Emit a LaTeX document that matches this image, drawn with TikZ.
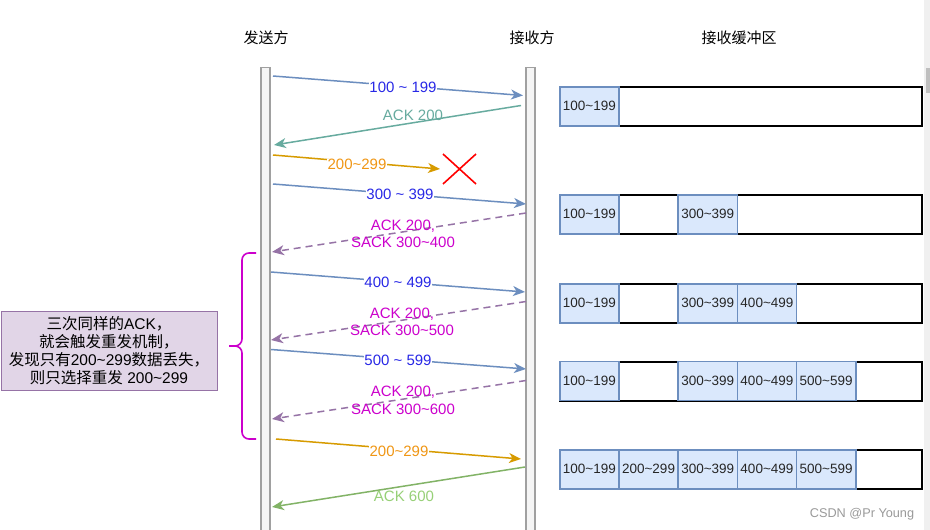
\documentclass[tikz,border=0pt]{standalone}
\usepackage{fontspec}
\setmainfont{Liberation Sans}
\newfontfamily\cjk{Noto Sans CJK SC}
\usetikzlibrary{arrows.meta}
\definecolor{segline}{HTML}{6C8EBF}
\definecolor{segtext}{RGB}{40,40,230}
\definecolor{ackline}{HTML}{67AB9F}
\definecolor{orgline}{HTML}{D79B00}
\definecolor{orgtext}{RGB}{240,150,20}
\definecolor{sackline}{HTML}{9673A6}
\definecolor{sacktext}{HTML}{CC00CC}
\definecolor{grnline}{HTML}{82B366}
\definecolor{grntext}{HTML}{97D077}
\definecolor{lifedraw}{HTML}{A0A0A0}
\definecolor{lifefill}{HTML}{F5F5F5}
\definecolor{cellfill}{HTML}{DAE8FC}
\definecolor{notefill}{HTML}{E1D5E7}
\definecolor{wm}{HTML}{9A9A9A}
\newcommand\tld{\textasciitilde}
\begin{document}
\begin{tikzpicture}[x=1pt,y=-1pt,
  lifebar/.style={draw=lifedraw, fill=lifefill, line width=1.3pt, minimum width=9pt, minimum height=475pt, inner sep=0pt, anchor=north},
  msg/.style={line width=1.5pt, -{Stealth[length=12pt,width=10pt,inset=3.5pt]}},
  lbl/.style={font=\fontsize{15}{17.5}\selectfont, inner sep=0.5pt, align=center},
  hdr/.style={font=\cjk\fontsize{15}{18}\selectfont, inner sep=0pt},
  cellbox/.style={draw=segline, fill=cellfill, line width=1.5pt, minimum width=59.2pt, minimum height=39pt, inner sep=0pt, anchor=north west, font=\fontsize{13.5}{16}\selectfont, text=black!85},
  bufbox/.style={draw=black, line width=2pt, minimum width=362pt, minimum height=39pt, inner sep=0pt, anchor=north west},
]
\useasboundingbox (0,0) rectangle (930,530);
\fill[white] (0,0) rectangle (930,530);

% headers
\node[hdr] (hs) at (266,38) {发送方};
\node[hdr] (hr) at (532,38) {接收方};
\node[hdr] (hb) at (739,38) {接收缓冲区};

% lifelines
\node[lifebar] (snd) at (265.5,67) {};
\node[lifebar] (rcv) at (530.5,67) {};

% endpoints
\coordinate (a1) at (273,76);  \coordinate (b1) at (523,95.5);
\coordinate (a2) at (521,105.5); \coordinate (b2) at (274,145);
\coordinate (a3) at (273,155); \coordinate (b3) at (440,169);
\coordinate (a4) at (273,184); \coordinate (b4) at (526,204);
\coordinate (a5) at (526,213); \coordinate (b5) at (272,252);
\coordinate (a6) at (271,272); \coordinate (b6) at (525,292);
\coordinate (a7) at (526,301.5); \coordinate (b7) at (271,340);
\coordinate (a8) at (271,349.5); \coordinate (b8) at (526,369);
\coordinate (a9) at (526,380.5); \coordinate (b9) at (272,419);
\coordinate (a10) at (276,439); \coordinate (b10) at (521,459);
\coordinate (a11) at (525,467); \coordinate (b11) at (272,507);

% messages
\draw[msg, segline] (a1) -- (b1);
\node[lbl, text=segtext, fill=white] (l1) at (403,87) {100 \tld{} 199};
\draw[msg, ackline] (a2) -- (b2);
\node[lbl, text=ackline] (l2) at (413,115.5) {ACK 200};
\draw[msg, orgline] (a3) -- (b3);
\node[lbl, text=orgtext, fill=white] (l3) at (357,164.5) {200\tld{}299};
\draw[red, line width=1.6pt] (443,154) -- (476,184) (443,184) -- (476,154);
\draw[msg, segline] (a4) -- (b4);
\node[lbl, text=segtext, fill=white] (l4) at (400,194) {300 \tld{} 399};
\draw[msg, sackline, dash pattern=on 7pt off 5pt] (a5) -- (b5);
\node[lbl, text=sacktext] (l5) at (403,234) {ACK 200,\\SACK 300\tld{}400};
\draw[msg, segline] (a6) -- (b6);
\node[lbl, text=segtext, fill=white] (l6) at (398,282) {400 \tld{} 499};
\draw[msg, sackline, dash pattern=on 7pt off 5pt] (a7) -- (b7);
\node[lbl, text=sacktext] (l7) at (402,322) {ACK 200,\\SACK 300\tld{}500};
\draw[msg, segline] (a8) -- (b8);
\node[lbl, text=segtext, fill=white] (l8) at (398,360) {500 \tld{} 599};
\draw[msg, sackline, dash pattern=on 7pt off 5pt] (a9) -- (b9);
\node[lbl, text=sacktext] (l9) at (403,400.5) {ACK 200,\\SACK 300\tld{}600};
\draw[msg, orgline] (a10) -- (b10);
\node[lbl, text=orgtext, fill=white] (l10) at (399,451) {200\tld{}299};
\draw[msg, grnline] (a11) -- (b11);
\node[lbl, text=grntext] (l11) at (404,496) {ACK 600};

% brace
\coordinate (bt) at (256,253);
\coordinate (bm) at (229,346);
\coordinate (bb) at (256,439);
\draw[sacktext, line width=1.6pt, rounded corners=7pt] (bt) -- (242,253) -- (242,346) -- (bm);
\draw[sacktext, line width=1.6pt, rounded corners=7pt] (bm) -- (242,346) -- (242,439) -- (bb);

% note
\node[draw=sackline, fill=notefill, line width=1pt, minimum width=216pt, minimum height=79pt, inner sep=0pt,
  align=center, font=\fontsize{15.5}{18}\selectfont] (note) at (109,350.5)
  {{\cjk 三次同样的}ACK{\cjk ，}\\
   {\cjk 就会触发重发机制，}\\
   {\cjk 发现只有}200\tld{}299{\cjk 数据丢失，}\\
   {\cjk 则只选择重发} 200\tld{}299};

% buffers
\foreach \r/\yy in {1/86, 2/194, 3/283, 4/360.5, 5/449}{
  \node[bufbox] (buf\r) at (559,\yy) {};
}
\node[cellbox] (c11) at (559,86) {100\tld{}199};

\node[cellbox] (c21) at (559,194) {100\tld{}199};
\node[cellbox] (c23) at (677.4,194) {300\tld{}399};

\node[cellbox] (c31) at (559,283) {100\tld{}199};
\node[cellbox] (c33) at (677.4,283) {300\tld{}399};
\node[cellbox] (c34) at (736.6,283) {400\tld{}499};

\node[cellbox] (c41) at (559,360.5) {100\tld{}199};
\node[cellbox] (c43) at (677.4,360.5) {300\tld{}399};
\node[cellbox] (c44) at (736.6,360.5) {400\tld{}499};
\node[cellbox] (c45) at (795.8,360.5) {500\tld{}599};

\node[cellbox] (c51) at (559,449) {100\tld{}199};
\node[cellbox] (c52) at (618.2,449) {200\tld{}299};
\node[cellbox] (c53) at (677.4,449) {300\tld{}399};
\node[cellbox] (c54) at (736.6,449) {400\tld{}499};
\node[cellbox] (c55) at (795.8,449) {500\tld{}599};

% scrollbar
\fill[black!6] (924,0) rectangle (930,530);
\fill[black!25] (926,68) rectangle (930,93);

% watermark
\node[text=wm, font=\fontsize{12.7}{15}\selectfont, inner sep=0pt] (wmk) at (862,514) {CSDN @Pr Young};
\end{tikzpicture}
\end{document}
